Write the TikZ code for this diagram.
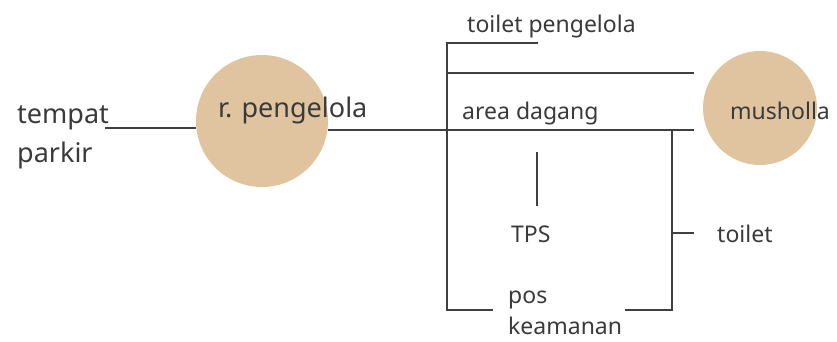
\documentclass[tikz,border=0pt]{standalone}
\usepackage{fontspec}
\setmainfont{Noto Sans}
\definecolor{tan}{HTML}{E0C4A0}
\definecolor{ink}{HTML}{3A3A3A}
\definecolor{wire}{HTML}{404040}
\begin{document}
\begin{tikzpicture}[x=1pt,y=-1pt,
  lbl/.style={inner sep=0pt,anchor=base west,text=ink,font=\fontsize{23}{28}\selectfont},
  biglbl/.style={lbl,font=\fontsize{27}{39}\selectfont},
  room/.style={circle,fill=tan,draw=none,inner sep=0pt},
  wirestyle/.style={draw=wire,line width=1.2pt}]
\useasboundingbox (0,0) rectangle (837,341);
% circles
\node[room,minimum size=132pt] (peng) at (262,121) {};
\node[room,minimum size=114pt] (mus) at (760,108) {};
% labels
\node[biglbl] (tempat) at (17,123) {tempat};
\node[biglbl] (parkir) at (17,162) {parkir};
\node[biglbl] (rpeng) at (218,117) {r. pengelola};
\node[lbl] (toilp) at (467,32) {toilet pengelola};
\node[lbl] (area) at (462,119) {area dagang};
\node[lbl] (musl) at (730,119) {musholla};
\node[lbl] (tps) at (511,242) {TPS};
\node[lbl] (toil) at (717,242) {toilet};
\node[lbl] (pos) at (508,303) {pos};
\node[lbl] (keam) at (508,334) {keamanan};
% junction coordinates
\coordinate (pk) at (105,128);
\coordinate (pw) at (peng.west |- pk);
\coordinate (pe) at (328,130);
\coordinate (mainR) at (694,130);
\coordinate (spTop) at (447,43);
\coordinate (tpEnd) at (538,43);
\coordinate (midL) at (447,73);
\coordinate (midR) at (694,73);
\coordinate (spBot) at (447,310);
\coordinate (posL) at (493,310);
\coordinate (posR) at (625,310);
\coordinate (rTop) at (672,130);
\coordinate (rBot) at (672,310);
\coordinate (tpsT) at (537,152);
\coordinate (tpsB) at (537,206);
\coordinate (toiL) at (672,233);
\coordinate (toiR) at (694,233);
% connectors
\draw[wirestyle] (pk) -- (pw);
\draw[wirestyle] (pe) -- (mainR);
\draw[wirestyle] (tpEnd) -- (spTop) -- (spBot) -- (posL);
\draw[wirestyle] (midL) -- (midR);
\draw[wirestyle] (rTop) -- (rBot) -- (posR);
\draw[wirestyle] (tpsT) -- (tpsB);
\draw[wirestyle] (toiL) -- (toiR);
\end{tikzpicture}
\end{document}
